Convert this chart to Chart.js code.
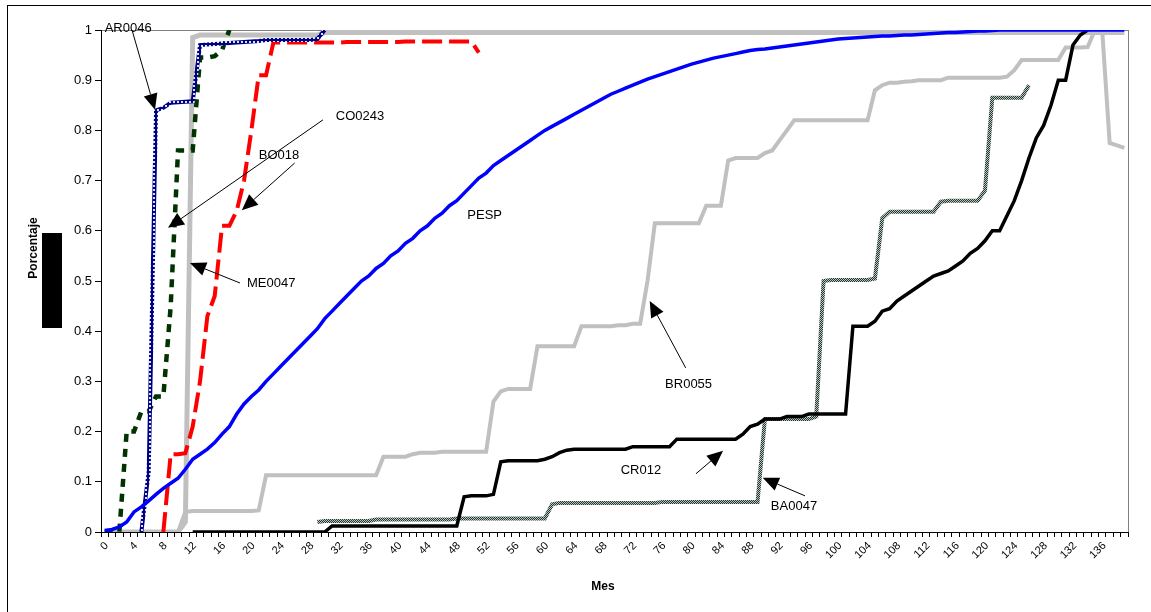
<!DOCTYPE html>
<html>
<head>
<meta charset="utf-8">
<script src="https://cdn.jsdelivr.net/npm/chart.js@4/dist/chart.umd.min.js"></script>
<style>
  html, body { margin: 0; padding: 0; background: #fff; }
  #wrap { width: 1151px; height: 612px; }
</style>
</head>
<body>
<div id="wrap"><canvas id="chart" width="1151" height="612"></canvas></div>
<script>
// months 0..139 on the category axis, a label every 4th month
var months = Array.from({ length: 140 }, function (_, i) { return String(i); });
var labelEvery = 4;

var pesp = [
    0.003, 0.005, 0.01, 0.02, 0.04, 0.05, 0.062, 0.075, 0.087, 0.097,
    0.107, 0.125, 0.145, 0.155, 0.165, 0.178, 0.195, 0.21, 0.235, 0.255,
    0.27, 0.283, 0.3, 0.315, 0.33, 0.345, 0.36, 0.375, 0.39, 0.405,
    0.425, 0.44, 0.455, 0.47, 0.485, 0.5, 0.51, 0.525, 0.535, 0.55,
    0.56, 0.575, 0.585, 0.6, 0.61, 0.625, 0.635, 0.65, 0.66, 0.675,
    0.69, 0.705, 0.715, 0.73, 0.74, 0.75, 0.76, 0.77, 0.78, 0.79,
    0.8, 0.808, 0.816, 0.824, 0.832, 0.84, 0.848, 0.856, 0.864, 0.872,
    0.878, 0.884, 0.89, 0.896, 0.902, 0.907, 0.912, 0.917, 0.922, 0.927,
    0.932, 0.936, 0.94, 0.944, 0.947, 0.95, 0.953, 0.956, 0.959, 0.961,
    0.962, 0.964, 0.966, 0.968, 0.97, 0.972, 0.974, 0.976, 0.978, 0.98,
    0.982, 0.983, 0.984, 0.985, 0.986, 0.987, 0.988, 0.988, 0.989, 0.99,
    0.99, 0.991, 0.992, 0.993, 0.994, 0.995, 0.995, 0.996, 0.997, 0.998,
    0.998, 0.999, 1, 1, 1, 1, 1, 1, 1, 1,
    1, 1, 1, 1, 1, 1, 1, 1, 1, 1
];

var ar0046 = [
    null, null, null, null, null, 0, 0.12, 0.84, 0.845, 0.855,
    0.856, 0.857, 0.858, 0.97, 0.971, 0.972, 0.973, 0.974, 0.975, 0.976,
    0.977, 0.978, 0.98, 0.98, 0.98, 0.98, 0.98, 0.98, 0.98, 0.982,
    1
];

var co0243 = [
    0, 0, 0, 0.2, 0.2, 0.24, 0.24, 0.27, 0.27, 0.45,
    0.76, 0.76, 0.76, 0.945, 0.945, 0.948, 0.96, 1
];

var bo018 = [
    null, null, null, null, null, null, null, null, 0, 0.155,
    0.155, 0.157, 0.21, 0.3, 0.43, 0.47, 0.61, 0.61, 0.64, 0.7,
    0.8, 0.91, 0.91, 0.975, 0.975, 0.975, 0.975, 0.975, 0.975, 0.975,
    0.975, 0.975, 0.975, 0.976, 0.976, 0.976, 0.976, 0.976, 0.976, 0.976,
    0.976, 0.977, 0.977, 0.977, 0.977, 0.977, 0.977, 0.977, 0.977, 0.977,
    0.977, 0.955
];

var me0047 = [
    0, 0, 0, 0, 0, 0, 0, 0, 0, 0,
    0, 0.02, 0.985, 0.99, 0.99, 0.99, 0.99, 0.99, 0.99, 0.99,
    0.99, 0.99, 0.99, 0.99, 0.99, 0.99, 0.99, 0.99, 0.99, 0.99,
    0.995, 0.995, 0.995, 0.995, 0.995, 0.995, 0.995, 0.995, 0.995, 0.995,
    0.995, 0.995, 0.995, 0.995, 0.995, 0.995, 0.995, 0.995, 0.995, 0.995,
    0.995, 0.995, 0.995, 0.995, 0.995, 0.995, 0.995, 0.995, 0.995, 0.995,
    0.995, 0.995, 0.995, 0.995, 0.995, 0.995, 0.995, 0.995, 0.995, 0.995,
    0.995, 0.995, 0.995, 0.995, 0.995, 0.995, 0.995, 0.995, 0.995, 0.995,
    0.995, 0.995, 0.995, 0.995, 0.995, 0.995, 0.995, 0.995, 0.995, 0.995,
    0.995, 0.995, 0.995, 0.995, 0.995, 0.995, 0.995, 0.995, 0.995, 0.995,
    0.995, 0.995, 0.995, 0.995, 0.995, 0.995, 0.995, 0.995, 0.995, 0.995,
    0.995, 0.995, 0.995, 0.995, 0.995, 0.995, 0.995, 0.995, 0.995, 0.995,
    0.995, 0.995, 0.995, 0.995, 0.995, 0.995, 0.995, 0.995, 0.995, 0.995,
    0.995, 0.995, 0.995, 0.995, 0.995, 0.995, 0.995, 0.995, 0.995, 0.995
];

var br0055 = [
    0, 0, 0, 0, 0, 0, 0, 0, 0, 0,
    0, 0.04, 0.042, 0.042, 0.042, 0.042, 0.042, 0.042, 0.042, 0.042,
    0.042, 0.043, 0.113, 0.113, 0.113, 0.113, 0.113, 0.113, 0.113, 0.113,
    0.113, 0.113, 0.113, 0.113, 0.113, 0.113, 0.113, 0.113, 0.15, 0.15,
    0.15, 0.15, 0.155, 0.158, 0.158, 0.158, 0.16, 0.16, 0.16, 0.16,
    0.16, 0.16, 0.16, 0.26, 0.28, 0.285, 0.285, 0.285, 0.285, 0.37,
    0.37, 0.37, 0.37, 0.37, 0.37, 0.41, 0.41, 0.41, 0.41, 0.41,
    0.412, 0.412, 0.415, 0.415, 0.5, 0.615, 0.615, 0.615, 0.615, 0.615,
    0.615, 0.615, 0.65, 0.65, 0.65, 0.74, 0.745, 0.745, 0.745, 0.745,
    0.755, 0.76, 0.78, 0.8, 0.82, 0.82, 0.82, 0.82, 0.82, 0.82,
    0.82, 0.82, 0.82, 0.82, 0.82, 0.88, 0.89, 0.895, 0.895, 0.897,
    0.898, 0.9, 0.9, 0.9, 0.9, 0.905, 0.905, 0.905, 0.905, 0.905,
    0.905, 0.905, 0.905, 0.907, 0.92, 0.94, 0.94, 0.94, 0.94, 0.94,
    0.94, 0.965, 0.965, 0.965, 0.966, 1, 0.995, 0.775, 0.77, 0.765
];

var cr012 = [
    null, null, null, null, null, null, null, null, null, null,
    null, null, 0, 0, 0, 0, 0, 0, 0, 0,
    0, 0, 0, 0, 0, 0, 0, 0, 0, 0,
    0, 0.012, 0.012, 0.012, 0.012, 0.012, 0.012, 0.012, 0.012, 0.012,
    0.012, 0.012, 0.012, 0.012, 0.012, 0.012, 0.012, 0.012, 0.012, 0.07,
    0.072, 0.072, 0.072, 0.075, 0.14, 0.142, 0.142, 0.142, 0.142, 0.142,
    0.145, 0.15, 0.158, 0.163, 0.165, 0.165, 0.165, 0.165, 0.165, 0.165,
    0.165, 0.165, 0.17, 0.17, 0.17, 0.17, 0.17, 0.17, 0.185, 0.185,
    0.185, 0.185, 0.185, 0.185, 0.185, 0.185, 0.185, 0.195, 0.21, 0.215,
    0.225, 0.225, 0.225, 0.23, 0.23, 0.23, 0.235, 0.235, 0.235, 0.235,
    0.235, 0.235, 0.41, 0.41, 0.41, 0.42, 0.44, 0.445, 0.46, 0.47,
    0.48, 0.49, 0.5, 0.51, 0.515, 0.52, 0.53, 0.54, 0.555, 0.565,
    0.58, 0.6, 0.6, 0.63, 0.66, 0.7, 0.745, 0.785, 0.81, 0.85,
    0.9, 0.9, 0.97, 0.99, 1
];

var ba0047 = [
    null, null, null, null, null, null, null, null, null, null,
    null, null, null, null, null, null, null, null, null, null,
    null, null, null, null, null, null, null, null, null, 0.02,
    0.022, 0.022, 0.022, 0.022, 0.022, 0.022, 0.022, 0.025, 0.025, 0.025,
    0.025, 0.025, 0.025, 0.025, 0.025, 0.025, 0.025, 0.025, 0.027, 0.027,
    0.027, 0.027, 0.027, 0.027, 0.027, 0.027, 0.027, 0.027, 0.027, 0.027,
    0.027, 0.055, 0.058, 0.058, 0.058, 0.058, 0.058, 0.058, 0.058, 0.058,
    0.058, 0.058, 0.058, 0.058, 0.058, 0.058, 0.06, 0.06, 0.06, 0.06,
    0.06, 0.06, 0.06, 0.06, 0.06, 0.06, 0.06, 0.06, 0.06, 0.06,
    0.225, 0.225, 0.225, 0.225, 0.225, 0.225, 0.225, 0.23, 0.5, 0.502,
    0.502, 0.502, 0.502, 0.502, 0.502, 0.505, 0.625, 0.638, 0.638, 0.638,
    0.638, 0.638, 0.638, 0.638, 0.658, 0.66, 0.66, 0.66, 0.66, 0.66,
    0.68, 0.865, 0.865, 0.865, 0.865, 0.865, 0.89
];

// annotation labels with their arrows, in (month, value) units
var noteText = ["AR0046", "CO0243", "BO018", "ME0047", "PESP", "BR0055", "CR012", "BA0047"];
var noteAt = [[3.2, 1.004], [34.8, 0.827], [23.77, 0.751], [22.7, 0.496], [51.8, 0.63], [79.6, 0.293], [73.1, 0.122], [93.97, 0.05]];
var arrowFrom = [[3.73, 1.0], [29.76, 0.821], [25.9, 0.735], [18.45, 0.496], null, [79.2, 0.327], [80.6, 0.116], [95.47, 0.072]];
var arrowTo = [[6.86, 0.841], [8.63, 0.606], [18.7, 0.641], [11.63, 0.536], null, [74.3, 0.46], [84.3, 0.162], [89.7, 0.108]];

Chart.defaults.font.family = "'Liberation Sans', Arial, sans-serif";
Chart.defaults.color = "#000";

function makePattern(size, base, spots) {
    var c = document.createElement("canvas");
    c.width = size;
    c.height = size;
    var g = c.getContext("2d");
    g.fillStyle = base;
    g.fillRect(0, 0, size, size);
    for (var i = 0; i < spots.length; i++) {
        g.fillStyle = spots[i][4];
        g.fillRect(spots[i][0], spots[i][1], spots[i][2], spots[i][3]);
    }
    return g.createPattern(c, "repeat");
}

var navyDots = makePattern(4, "#000080", [[1, 1, 2, 2, "#d8e0ff"]]);
var checker = makePattern(2, "#24362c", [[0, 0, 1, 1, "#b8c8c0"], [1, 1, 1, 1, "#b8c8c0"]]);

function drawArrow(ctx, x1, y1, x2, y2) {
    var ang = Math.atan2(y2 - y1, x2 - x1);
    var len = 16, half = 7;
    var bx = x2 - len * Math.cos(ang), by = y2 - len * Math.sin(ang);
    ctx.beginPath();
    ctx.moveTo(x1, y1);
    ctx.lineTo(bx, by);
    ctx.strokeStyle = "#000";
    ctx.lineWidth = 1;
    ctx.stroke();
    ctx.beginPath();
    ctx.moveTo(x2, y2);
    ctx.lineTo(bx + half * Math.sin(ang), by - half * Math.cos(ang));
    ctx.lineTo(bx - half * Math.sin(ang), by + half * Math.cos(ang));
    ctx.closePath();
    ctx.fillStyle = "#000";
    ctx.fill();
}

var decorPlugin = {
    id: "decor",
    beforeDraw: function (chart) {
        var ctx = chart.ctx;
        ctx.save();
        ctx.fillStyle = "#fff";
        ctx.fillRect(0, 0, chart.width, chart.height);
        // outer frame
        ctx.strokeStyle = "#000";
        ctx.lineWidth = 1;
        ctx.strokeRect(7.5, 5.5, 1200, 700);
        // plot area frame
        var a = chart.chartArea;
        ctx.strokeStyle = "#808080";
        ctx.strokeRect(Math.round(a.left) + 0.5, Math.round(a.top) + 0.5, Math.round(a.right - a.left), Math.round(a.bottom - a.top));
        // y title and the black block under it
        ctx.fillStyle = "#000";
        ctx.fillRect(42, 233, 20, 95);
        ctx.translate(34, 248);
        ctx.rotate(-Math.PI / 2);
        ctx.font = "bold 12px 'Liberation Sans', Arial, sans-serif";
        ctx.textAlign = "center";
        ctx.textBaseline = "middle";
        ctx.fillText("Porcentaje", 0, 0);
        ctx.restore();
        ctx.save();
        ctx.font = "bold 12px 'Liberation Sans', Arial, sans-serif";
        ctx.textAlign = "center";
        ctx.textBaseline = "middle";
        ctx.fillStyle = "#000";
        ctx.fillText("Mes", 603, 587);
        ctx.restore();
    },
    afterDraw: function (chart) {
        // month labels at 45 degrees, every 4th category
        var ctx = chart.ctx;
        var xs = chart.scales.x;
        ctx.save();
        ctx.font = "11px 'Liberation Sans', Arial, sans-serif";
        ctx.fillStyle = "#000";
        ctx.textAlign = "right";
        ctx.textBaseline = "middle";
        for (var i = 0; i < months.length; i += labelEvery) {
            ctx.save();
            ctx.translate(xs.getPixelForValue(i) + 2, xs.top + 12);
            ctx.rotate(-Math.PI / 4);
            ctx.fillText(months[i], 0, 0);
            ctx.restore();
        }
        ctx.restore();
    },
    afterDatasetsDraw: function (chart) {
        var ctx = chart.ctx;
        var xs = chart.scales.x, ys = chart.scales.y;
        ctx.save();
        ctx.font = "13px 'Liberation Sans', Arial, sans-serif";
        ctx.textAlign = "center";
        ctx.textBaseline = "middle";
        for (var i = 0; i < noteText.length; i++) {
            if (arrowFrom[i]) {
                drawArrow(ctx,
                    xs.getPixelForValue(arrowFrom[i][0]), ys.getPixelForValue(arrowFrom[i][1]),
                    xs.getPixelForValue(arrowTo[i][0]), ys.getPixelForValue(arrowTo[i][1]));
            }
            ctx.fillStyle = "#000";
            ctx.fillText(noteText[i], xs.getPixelForValue(noteAt[i][0]), ys.getPixelForValue(noteAt[i][1]));
        }
        ctx.restore();
    }
};

function series(label, data, color, width, dash) {
    return {
        label: label,
        data: data,
        borderColor: color,
        borderWidth: width,
        borderDash: dash || [],
        borderCapStyle: "butt",
        borderJoinStyle: "miter",
        pointRadius: 0,
        tension: 0,
        fill: false,
        spanGaps: false
    };
}

new Chart(document.getElementById("chart"), {
    type: "line",
    data: {
        labels: months,
        datasets: [
            series("PESP", pesp, "#0000ff", 3.5),
            series("CR012", cr012, "#000000", 3.5),
            series("AR0046", ar0046, navyDots, 4),
            series("CO0243", co0243, "#003300", 4.5, [8, 7]),
            series("BO018", bo018, "#ff0000", 4, [20, 7]),
            series("BA0047", ba0047, checker, 4),
            series("ME0047", me0047, "#c0c0c0", 5),
            series("BR0055", br0055, "#c0c0c0", 4)
        ]
    },
    options: {
        responsive: false,
        animation: false,
        events: [],
        layout: { padding: { left: 40, right: 23, top: 30, bottom: 0 } },
        plugins: {
            legend: { display: false },
            tooltip: { enabled: false }
        },
        scales: {
            x: {
                type: "category",
                offset: true,
                grid: { drawOnChartArea: false, drawTicks: true, tickLength: 5, color: "#000", offset: true },
                border: { color: "#000", width: 1 },
                ticks: { display: false, autoSkip: false },
                afterFit: function (s) { s.height = 80; }
            },
            y: {
                min: 0,
                max: 1,
                grid: { drawOnChartArea: false, drawTicks: true, tickLength: 6, color: "#000" },
                border: { color: "#000", width: 1 },
                ticks: {
                    stepSize: 0.1,
                    padding: 3,
                    font: { size: 13 },
                    color: "#000",
                    callback: function (v) { return String(Math.round(v * 10) / 10); }
                },
                afterFit: function (s) { s.width = 61; }
            }
        }
    },
    plugins: [decorPlugin]
});
</script>
</body>
</html>
